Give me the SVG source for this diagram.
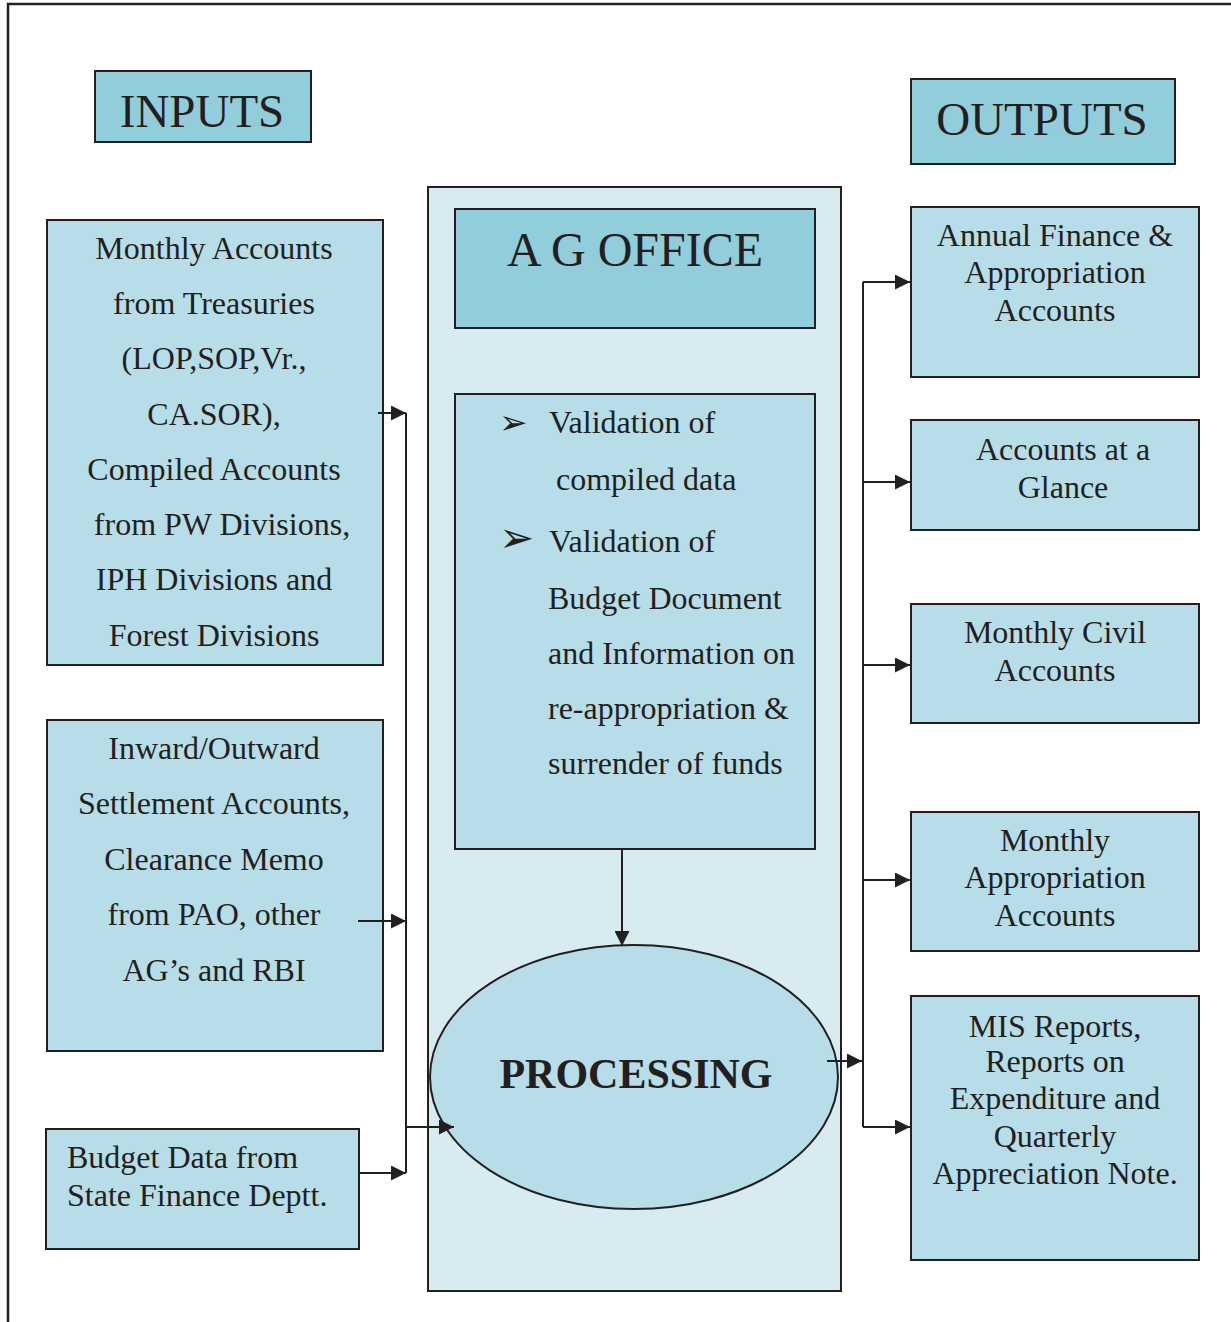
<svg xmlns="http://www.w3.org/2000/svg" width="1231" height="1322" viewBox="0 0 1231 1322">
<defs>
<marker id="ah" viewBox="0 0 10 10" refX="10" refY="5" markerWidth="15" markerHeight="15" markerUnits="userSpaceOnUse" orient="auto"><path d="M0,0 L10,5 L0,10 z" fill="#231f20"/></marker>
</defs>
<style>
.t{font-family:"Liberation Serif","Times New Roman",serif;fill:#231f20;font-size:32px}
.c{text-anchor:middle}
.h{font-size:47px}
.g{font-size:48px}
.b{font-size:42px;font-weight:bold}
.dk{fill:#92cddc;stroke:#231f20;stroke-width:2}
.lt{fill:#b7dde8;stroke:#231f20;stroke-width:2}
.ct{fill:#d7ebf1;stroke:#231f20;stroke-width:2}
.ln{fill:none;stroke:#231f20;stroke-width:2}
.ar{fill:none;stroke:#231f20;stroke-width:2;marker-end:url(#ah)}
.bu{font-family:"DejaVu Sans",sans-serif;fill:#231f20}
</style>
<rect width="1231" height="1322" fill="#fff"/>
<path class="ln" d="M8,1322 V4 H1231" style="stroke-width:2.5"/>

<g id="inputs-title"><rect class="dk" x="95" y="71" width="216" height="71"/><text class="t h c" x="202" y="127">INPUTS</text></g>
<g id="outputs-title"><rect class="dk" x="911" y="79" width="264" height="85"/><text class="t h c" x="1042" y="135">OUTPUTS</text></g>

<g id="ag-office-container"><rect class="ct" x="428" y="187" width="413" height="1104"/></g>
<g id="ag-office"><rect class="dk" x="455" y="209" width="360" height="119"/><text class="t g c" x="635" y="266">A G OFFICE</text></g>

<g id="validation"><rect class="lt" x="455" y="394" width="360" height="455"/>
<text class="bu" x="499" y="434" font-size="34">➢</text>
<text class="t" x="549" y="433">Validation of</text>
<text class="t" x="556" y="490">compiled data</text>
<text class="bu" x="499" y="552" font-size="42">➢</text>
<text class="t" x="549" y="552">Validation of</text>
<text class="t" x="548" y="609">Budget Document</text>
<text class="t" x="548" y="664">and Information on</text>
<text class="t" x="548" y="719">re-appropriation &amp;</text>
<text class="t" x="548" y="774">surrender of funds</text>
</g>

<g id="processing"><ellipse fill="#b7dde8" stroke="#231f20" stroke-width="2" cx="634" cy="1077" rx="204" ry="132"/><text class="t b c" x="636" y="1088">PROCESSING</text></g>

<g id="in1"><rect class="lt" x="47" y="220" width="336" height="445"/>
<text class="t c" x="214" y="259">Monthly Accounts</text>
<text class="t c" x="214" y="314">from Treasuries</text>
<text class="t c" x="214" y="369">(LOP,SOP,Vr.,</text>
<text class="t c" x="214" y="425">CA.SOR),</text>
<text class="t c" x="214" y="480">Compiled Accounts</text>
<text class="t c" x="222" y="535">from PW Divisions,</text>
<text class="t c" x="214" y="590">IPH Divisions and</text>
<text class="t c" x="214" y="646">Forest Divisions</text>
</g>
<g id="in2"><rect class="lt" x="47" y="720" width="336" height="331"/>
<text class="t c" x="214" y="759">Inward/Outward</text>
<text class="t c" x="214" y="814">Settlement Accounts,</text>
<text class="t c" x="214" y="870">Clearance Memo</text>
<text class="t c" x="214" y="925">from PAO, other</text>
<text class="t c" x="214" y="981">AG’s and RBI</text>
</g>
<g id="in3"><rect class="lt" x="46" y="1129" width="313" height="120"/>
<text class="t" x="67" y="1168">Budget Data from</text>
<text class="t" x="67" y="1206">State Finance Deptt.</text>
</g>

<g id="out1"><rect class="lt" x="911" y="207" width="288" height="170"/>
<text class="t c" x="1055" y="246">Annual Finance &amp;</text>
<text class="t c" x="1055" y="283">Appropriation</text>
<text class="t c" x="1055" y="321">Accounts</text>
</g>
<g id="out2"><rect class="lt" x="911" y="420" width="288" height="110"/>
<text class="t c" x="1063" y="460">Accounts at a</text>
<text class="t c" x="1063" y="498">Glance</text>
</g>
<g id="out3"><rect class="lt" x="911" y="604" width="288" height="119"/>
<text class="t c" x="1055" y="643">Monthly Civil</text>
<text class="t c" x="1055" y="681">Accounts</text>
</g>
<g id="out4"><rect class="lt" x="911" y="812" width="288" height="139"/>
<text class="t c" x="1055" y="851">Monthly</text>
<text class="t c" x="1055" y="888">Appropriation</text>
<text class="t c" x="1055" y="926">Accounts</text>
</g>
<g id="out5"><rect class="lt" x="911" y="996" width="288" height="264"/>
<text class="t c" x="1055" y="1037">MIS Reports,</text>
<text class="t c" x="1055" y="1072">Reports on</text>
<text class="t c" x="1055" y="1109">Expenditure and</text>
<text class="t c" x="1055" y="1147">Quarterly</text>
<text class="t c" x="1055" y="1184">Appreciation Note.</text>
</g>

<g id="connectors">
<path class="ln" d="M406,413 V1173"/>
<path class="ar" d="M378,413 H406"/>
<path class="ar" d="M358,921 H406"/>
<path class="ar" d="M359,1173 H406"/>
<path class="ar" d="M406,1127 H454"/>
<path class="ar" d="M622,849 V946"/>
<path class="ar" d="M827,1061 H862"/>
<path class="ln" d="M863,282 V1127"/>
<path class="ar" d="M863,282 H910"/>
<path class="ar" d="M863,482 H910"/>
<path class="ar" d="M863,665 H910"/>
<path class="ar" d="M863,880 H910"/>
<path class="ar" d="M863,1127 H910"/>
</g>
</svg>
